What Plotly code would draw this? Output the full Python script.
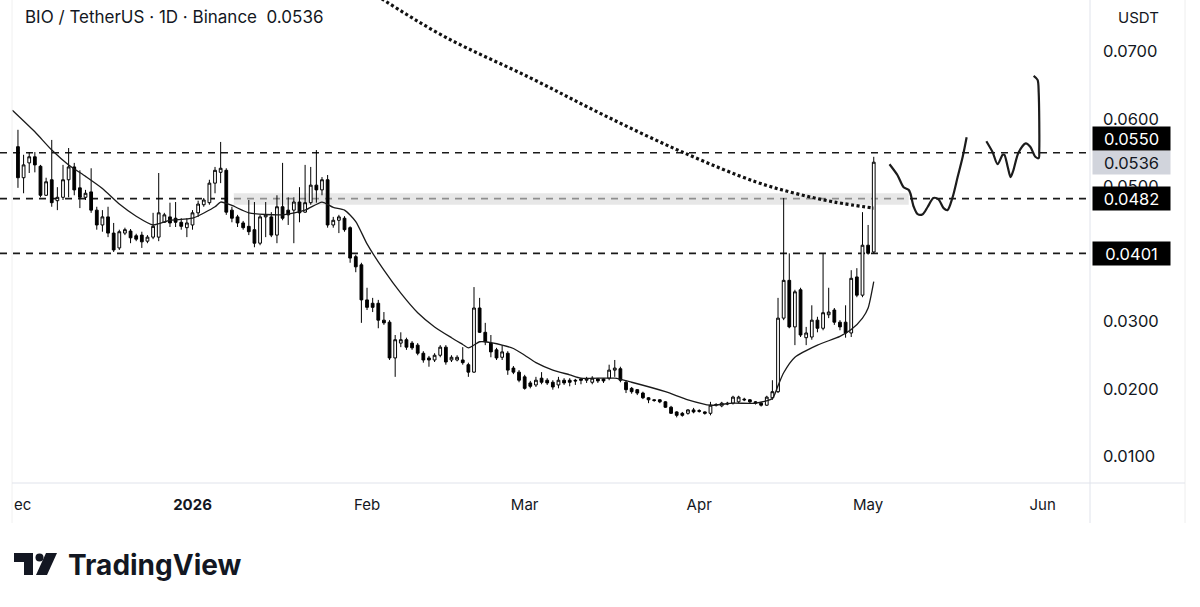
import pandas as pd
import plotly.graph_objects as go

# ---------------- data ----------------
first_day = "2025-12-01"
opens = [.0559, .0513, .0535, .0544, .0530, .0487, .0510, .0479, .0484, .0510,
         .0529, .0498, .0484, .0492, .0465, .0443, .0455, .0431, .0409, .0431,
         .0434, .0427, .0428, .0419, .0425, .0425, .0447, .0455, .0453, .0447,
         .0439, .0443, .0461, .0473, .0476, .0505, .0521, .0524, .0465, .0455,
         .0446, .0441, .0436, .0416, .0455, .0455, .0428, .0470, .0465, .0465,
         .0477, .0462, .0476, .0502, .0495, .0510, .0443, .0450, .0453, .0439,
         .0396, .0384, .0332, .0327, .0327, .0302, .0299, .0246, .0268, .0273,
         .0268, .0265, .0253, .0246, .0243, .0250, .0262, .0243, .0243, .0243,
         .0236, .0225, .0320, .0284, .0268, .0258, .0247, .0253, .0231, .0225,
         .0218, .0209, .0206, .0216, .0213, .0210, .0206, .0213, .0213, .0213,
         .0215, .0213, .0210, .0215, .0215, .0216, .0228, .0230, .0210, .0201,
         .0199, .0194, .0187, .0184, .0184, .0181, .0173, .0166, .0164, .0164,
         .0169, .0168, .0166, .0164, .0176, .0175, .0179, .0179, .0181, .0185,
         .0184, .0181, .0179, .0176, .0187, .0196, .0305, .0361, .0292, .0347,
         .0276, .0277, .0302, .0290, .0310, .0317, .0299, .0299, .0283, .0366,
         .0339, .0413, .0403]
highs = [.0584, .0547, .0551, .0551, .0532, .0513, .0569, .0499, .0532, .0557,
         .0535, .0524, .0495, .0527, .0470, .0465, .0470, .0446, .0436, .0439,
         .0437, .0430, .0433, .0428, .0461, .0520, .0461, .0476, .0477, .0453,
         .0453, .0465, .0479, .0483, .0510, .0529, .0566, .0527, .0470, .0458,
         .0449, .0480, .0477, .0458, .0477, .0462, .0487, .0535, .0484, .0484,
         .0499, .0532, .0529, .0554, .0514, .0517, .0455, .0458, .0456, .0441,
         .0399, .0387, .0350, .0335, .0332, .0314, .0302, .0280, .0284, .0276,
         .0271, .0268, .0256, .0249, .0253, .0265, .0265, .0250, .0250, .0262,
         .0239, .0351, .0335, .0298, .0280, .0261, .0265, .0256, .0234, .0228,
         .0221, .0212, .0218, .0225, .0216, .0213, .0218, .0216, .0216, .0215,
         .0216, .0218, .0219, .0216, .0216, .0236, .0243, .0233, .0213, .0203,
         .0200, .0196, .0188, .0185, .0185, .0182, .0175, .0167, .0166, .0170,
         .0172, .0170, .0167, .0181, .0179, .0181, .0181, .0190, .0190, .0187,
         .0185, .0182, .0181, .0190, .0213, .0335, .0483, .0401, .0347, .0350,
         .0292, .0324, .0307, .0401, .0350, .0320, .0302, .0324, .0376, .0379,
         .0462, .0443, .0544]
lows = [.0498, .0490, .0520, .0521, .0484, .0486, .0470, .0465, .0480, .0484,
        .0487, .0468, .0480, .0461, .0436, .0433, .0425, .0403, .0406, .0428,
        .0416, .0419, .0409, .0416, .0422, .0419, .0446, .0440, .0440, .0436,
        .0425, .0436, .0455, .0470, .0473, .0490, .0505, .0458, .0447, .0440,
        .0436, .0428, .0410, .0413, .0425, .0425, .0416, .0450, .0443, .0416,
        .0447, .0461, .0473, .0476, .0487, .0439, .0439, .0431, .0433, .0387,
        .0373, .0298, .0317, .0314, .0290, .0295, .0243, .0218, .0262, .0258,
        .0258, .0250, .0239, .0233, .0240, .0247, .0236, .0240, .0241, .0236,
        .0218, .0224, .0283, .0265, .0247, .0243, .0243, .0221, .0222, .0210,
        .0199, .0201, .0203, .0207, .0206, .0199, .0201, .0206, .0204, .0206,
        .0207, .0209, .0207, .0209, .0209, .0213, .0218, .0210, .0194, .0193,
        .0191, .0185, .0179, .0181, .0179, .0172, .0163, .0158, .0159, .0162,
        .0164, .0165, .0162, .0161, .0174, .0173, .0176, .0177, .0179, .0182,
        .0179, .0177, .0174, .0175, .0184, .0194, .0302, .0290, .0265, .0277,
        .0265, .0273, .0284, .0287, .0305, .0295, .0287, .0276, .0277, .0336,
        .0336, .0399, .0401]
closes = [.0513, .0532, .0544, .0532, .0487, .0507, .0476, .0484, .0510, .0529,
          .0495, .0484, .0490, .0465, .0443, .0455, .0431, .0406, .0433, .0436,
          .0424, .0422, .0418, .0425, .0441, .0461, .0458, .0446, .0447, .0441,
          .0446, .0461, .0474, .0480, .0505, .0524, .0527, .0462, .0453, .0446,
          .0439, .0433, .0416, .0455, .0458, .0428, .0470, .0453, .0458, .0477,
          .0461, .0476, .0502, .0495, .0510, .0443, .0450, .0455, .0436, .0394,
          .0381, .0332, .0321, .0321, .0302, .0298, .0246, .0273, .0273, .0262,
          .0261, .0253, .0243, .0243, .0250, .0262, .0240, .0247, .0247, .0239,
          .0225, .0320, .0284, .0270, .0255, .0246, .0255, .0228, .0225, .0213,
          .0201, .0204, .0213, .0210, .0209, .0203, .0213, .0209, .0210, .0212,
          .0213, .0215, .0216, .0212, .0212, .0228, .0231, .0213, .0199, .0196,
          .0194, .0187, .0184, .0183, .0181, .0173, .0164, .0161, .0161, .0169,
          .0166, .0167, .0164, .0176, .0177, .0179, .0178, .0188, .0188, .0184,
          .0181, .0179, .0176, .0188, .0196, .0305, .0361, .0292, .0344, .0280,
          .0283, .0302, .0290, .0313, .0314, .0299, .0292, .0283, .0364, .0339,
          .0413, .0401, .0536]

# short moving average (thin solid line)
ma_dates = ["2025-11-30", "2025-12-04", "2025-12-07", "2025-12-10", "2025-12-13",
            "2025-12-16", "2025-12-19", "2025-12-22", "2025-12-25", "2025-12-28",
            "2026-01-01", "2026-01-05", "2026-01-06", "2026-01-08", "2026-01-11",
            "2026-01-17", "2026-01-21", "2026-01-24", "2026-01-26", "2026-01-28",
            "2026-01-30", "2026-02-01", "2026-02-04", "2026-02-07", "2026-02-10",
            "2026-02-13", "2026-02-16", "2026-02-18", "2026-02-19", "2026-02-21",
            "2026-02-22", "2026-02-25", "2026-02-27", "2026-03-01", "2026-03-03",
            "2026-03-06", "2026-03-09", "2026-03-11", "2026-03-17", "2026-03-20",
            "2026-03-26", "2026-03-30", "2026-04-03", "2026-04-07", "2026-04-11",
            "2026-04-14", "2026-04-15", "2026-04-16", "2026-04-18", "2026-04-22",
            "2026-04-26", "2026-04-28", "2026-04-30", "2026-05-01", "2026-05-02"]
ma_vals = [.0613, .0581, .0554, .0532, .0515, .0497, .0474, .0456, .0443, .0450,
           .0453, .0470, .0477, .0472, .0461, .0458, .0465, .0477, .0469, .0465,
           .0448, .0415, .0376, .0342, .0313, .0292, .0276, .0266, .0261, .0270,
           .0270, .0265, .0260, .0250, .0239, .0228, .0221, .0216, .0216, .0210,
           .0196, .0184, .0176, .0179, .0179, .0186, .0205, .0224, .0247, .0265,
           .0278, .0288, .0305, .0320, .0359]

# long moving average (dotted line)
lma_dates = ["2026-01-28", "2026-02-04", "2026-02-15", "2026-03-02", "2026-03-15",
             "2026-03-29", "2026-04-11", "2026-04-18", "2026-04-25", "2026-05-02"]
lma_vals = [.0815, .0776, .0721, .0661, .0606, .0551, .0507, .0490, .0477, .0468]

# hand-drawn projection (days after 2026-05-01, price)
proj_base = "2026-05-01"
proj1_days = [3.8, 5.2, 6.3, 7.2, 7.5, 8.1, 8.8, 9.7, 10.6, 11.6, 12.5, 13.4, 14.1,
              15.0, 15.9, 16.8, 17.5]
proj1_vals = [.0533, .0517, .0499, .0495, .0490, .0470, .0459, .0459, .0470, .0483,
              .0481, .0468, .0465, .0484, .0514, .0544, .0573]
proj2_days = [21.0, 22.1, 23.0, 23.9, 24.2, 24.8, 25.3, 25.8, 26.7, 28.0, 28.8,
              29.7, 30.3, 30.4, 30.3, 30.1, 29.4]
proj2_vals = [.0567, .0551, .0533, .0547, .0547, .0529, .0514, .0524, .0550, .0564,
              .0559, .0544, .0542, .0554, .0639, .0658, .0664]

levels = [0.0550, 0.0482, 0.0401]
level_shift = [14, 0, 0]
zone_low, zone_high = 0.0473, 0.0490
zone_start, zone_end = "2026-01-08 08:00", "2026-05-08 05:00"
last_price = 0.0536

x_tickvals = ["2025-12-01 20:00", "2026-01-01", "2026-02-01", "2026-03-01",
              "2026-04-01", "2026-05-01", "2026-06-01"]
x_ticktext = ["ec", "<b>2026</b>", "Feb", "Mar", "Apr", "May", "Jun"]
y_tickvals = [0.01, 0.02, 0.03, 0.05, 0.06, 0.07]

# ---------------- layout geometry ----------------
W, H = 1200, 607
PL, PR, PT, PB = 0, 1090, 0, 483
PW, PH = PR - PL, PB - PT


def px(x):
    return (x - PL) / PW


def py(y):
    return 1 - (y - PT) / PH


jan1 = pd.Timestamp("2026-01-01")
x_range = [jan1 - pd.Timedelta(days=34.19), jan1 + pd.Timedelta(days=159.41)]
y_range = [0.006074, 0.07763]

dates = pd.date_range(first_day, periods=len(opens), freq="D")
pb = pd.Timestamp(proj_base)
proj1_x = [pb + pd.Timedelta(days=d) for d in proj1_days]
proj2_x = [pb + pd.Timedelta(days=d) for d in proj2_days]

INK = "#131722"
FONT = "Inter, Roboto, 'Noto Sans', sans-serif"
AXIS_FS = 16.5

fig = go.Figure()
fig.add_trace(go.Candlestick(
    x=dates, open=opens, high=highs, low=lows, close=closes,
    increasing=dict(line=dict(color="#000000", width=1), fillcolor="#ffffff"),
    decreasing=dict(line=dict(color="#000000", width=1), fillcolor="#000000"),
    whiskerwidth=0, hoverinfo="skip"))
fig.add_trace(go.Scatter(x=ma_dates, y=ma_vals, mode="lines",
                         line=dict(color="#1a1a1a", width=1.3, shape="spline", smoothing=0.6),
                         hoverinfo="skip"))
fig.add_trace(go.Scatter(x=lma_dates, y=lma_vals, mode="lines",
                         line=dict(color="#111111", width=3.2, dash="3px,2.6px", shape="spline"),
                         hoverinfo="skip"))
for xs, ys in ((proj1_x, proj1_vals), (proj2_x, proj2_vals)):
    fig.add_trace(go.Scatter(x=xs, y=ys, mode="lines",
                             line=dict(color="#1c1c1c", width=2.2, shape="spline", smoothing=0.8),
                             hoverinfo="skip"))

shapes = []
for lv in levels:
    shapes.append(dict(type="line", xref="paper", yref="y", x0=0, x1=1, y0=lv, y1=lv,
                       line=dict(color="#1a1a1a", width=1.6, dash="7px,6px"), layer="below"))
shapes.append(dict(type="rect", xref="x", yref="y", x0=zone_start, x1=zone_end,
                   y0=zone_low, y1=zone_high, fillcolor="#d9d9d9", opacity=0.62,
                   line=dict(width=0), layer="below"))
frame = "#e0e3eb"
shapes += [
    dict(type="line", xref="paper", yref="paper", x0=1, x1=1, y0=py(523), y1=1,
         line=dict(color=frame, width=1)),
    dict(type="line", xref="paper", yref="paper", x0=px(1185), x1=px(1185), y0=py(523), y1=1,
         line=dict(color="#eeeeee", width=1)),
    dict(type="line", xref="paper", yref="paper", x0=px(12), x1=px(12), y0=py(523), y1=1,
         line=dict(color="#f0f0f0", width=1)),
    dict(type="line", xref="paper", yref="paper", x0=px(12), x1=px(1185), y0=0, y1=0,
         line=dict(color=frame, width=1)),
]
# TradingView logo mark
logo_t = (f"M {px(14)},{py(553)} L {px(33)},{py(553)} L {px(33)},{py(575)} "
          f"L {px(24)},{py(575)} L {px(24)},{py(562)} L {px(14)},{py(562)} Z")
logo_v = (f"M {px(46)},{py(553)} L {px(57)},{py(553)} L {px(47)},{py(575)} "
          f"L {px(36)},{py(575)} Z")
shapes.append(dict(type="path", xref="paper", yref="paper", path=logo_t,
                   fillcolor=INK, line=dict(width=0)))
shapes.append(dict(type="path", xref="paper", yref="paper", path=logo_v,
                   fillcolor=INK, line=dict(width=0)))
shapes.append(dict(type="circle", xref="paper", yref="paper",
                   x0=px(35.5), x1=px(43.5), y0=py(561.5), y1=py(553.5),
                   fillcolor=INK, line=dict(width=0)))

annotations = [
    dict(xref="paper", yref="paper", x=px(23), y=py(17), xanchor="left", yanchor="middle",
         text="BIO / TetherUS · 1D · Binance\u00a0\u00a0" + f"{last_price:.4f}",
         showarrow=False, font=dict(size=17, color=INK, family=FONT)),
    dict(xref="paper", yref="paper", x=px(1138), y=py(17), xanchor="center", yanchor="middle",
         text="USDT", showarrow=False, font=dict(size=15, color=INK, family=FONT)),
    dict(xref="paper", yref="paper", x=px(66), y=py(565), xanchor="left", yanchor="middle",
         text="<b>TradingView</b>", showarrow=False,
         font=dict(size=28, color=INK, family=FONT)),
    dict(xref="paper", yref="y", x=px(1092), y=last_price, xanchor="left", yanchor="middle",
         text=f"{last_price:.4f}", showarrow=False, bgcolor="#d1d4dc",
         width=73, height=19, borderpad=2, font=dict(size=AXIS_FS, color=INK, family=FONT)),
]
for lv, sh in zip(levels, level_shift):
    annotations.append(dict(xref="paper", yref="y", x=px(1092), y=lv, yshift=sh,
                            xanchor="left", yanchor="middle", text=f"{lv:.4f}",
                            showarrow=False, bgcolor="#000000", width=73, height=19,
                            borderpad=2, font=dict(size=AXIS_FS, color="#ffffff", family=FONT)))

fig.update_layout(
    width=W, height=H,
    margin=dict(l=PL, r=W - PR, t=PT, b=H - PB),
    paper_bgcolor="#ffffff", plot_bgcolor="#ffffff",
    showlegend=False,
    font=dict(family=FONT, color=INK, size=14),
    shapes=shapes, annotations=annotations,
    xaxis=dict(range=x_range, rangeslider=dict(visible=False), showgrid=False,
               zeroline=False, showline=False, ticks="", tickvals=x_tickvals,
               ticktext=x_ticktext, tickfont=dict(size=15, color=INK),
               ticklabelstandoff=11, fixedrange=True),
    yaxis=dict(range=y_range, side="right", showgrid=False, zeroline=False,
               showline=False, ticks="", tickvals=y_tickvals, tickformat=".4f",
               tickfont=dict(size=AXIS_FS, color=INK), ticklabelstandoff=12,
               fixedrange=True),
)

fig.write_html("out.html", config={"displayModeBar": False},
               post_script="document.body.style.margin='0';document.body.style.overflow='hidden';")
